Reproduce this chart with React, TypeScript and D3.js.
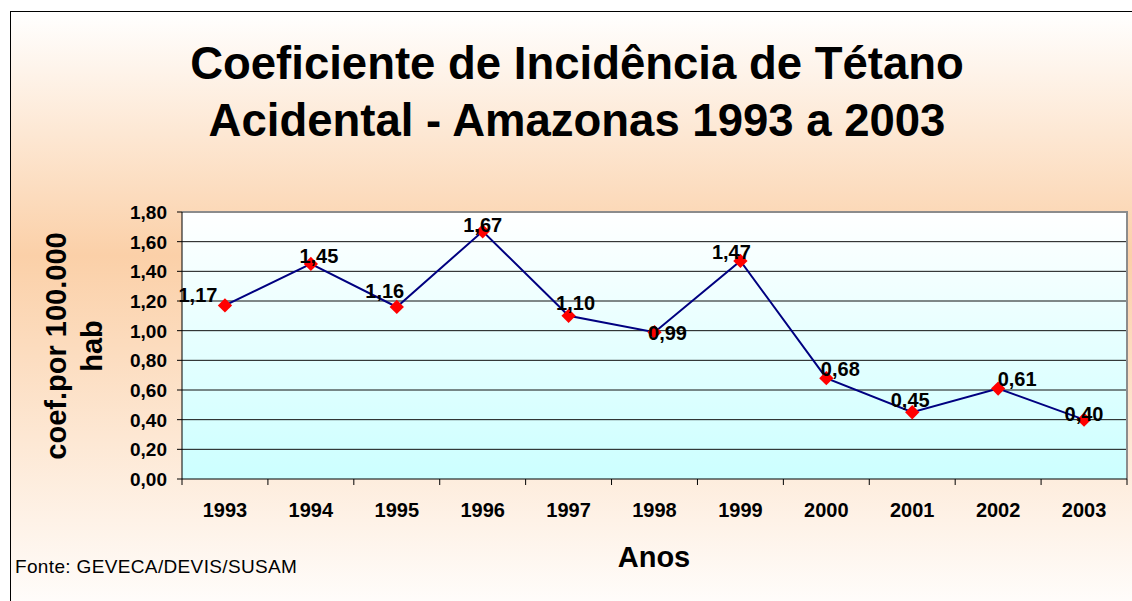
import React from "react";
import * as d3 from "d3";

const years = ["1993", "1994", "1995", "1996", "1997", "1998", "1999", "2000", "2001", "2002", "2003"];
const values = [1.17, 1.45, 1.16, 1.67, 1.10, 0.99, 1.47, 0.68, 0.45, 0.61, 0.40];
const yTicks = [0, 0.2, 0.4, 0.6, 0.8, 1.0, 1.2, 1.4, 1.6, 1.8];
const titleLines = ["Coeficiente de Incidência de Tétano", "Acidental - Amazonas 1993 a 2003"];
const yLabelLines = ["coef.por 100.000", "hab"];
const xLabel = "Anos";
const source = "Fonte: GEVECA/DEVIS/SUSAM";

// label nudges (dx, dy) relative to the point, mimicking the original placement
const labelNudge: [number, number][] = [
  [-27, -3], [8, -1], [-12, -9], [0, 1], [7, -6], [13, 8], [-9, -2], [14, -2], [-2, -5], [19, -3], [0, 1],
];

const W = 1132;
const H = 601;
const FONT = "'Liberation Sans', Arial, Helvetica, sans-serif";
const fmt = (v: number) => v.toFixed(2).replace(".", ",");

export default function App() {
  const plot = { left: 182, right: 1127, top: 212, bottom: 479 };
  const x = d3.scaleBand<string>().domain(years).range([plot.left, plot.right]);
  const y = d3.scaleLinear().domain([0, 1.8]).range([plot.bottom, plot.top]);
  const cx = (i: number) => (x(years[i]) as number) + x.bandwidth() / 2;

  const line = d3
    .line<number>()
    .x((_, i) => cx(i))
    .y((d) => y(d));

  const diamond = d3.symbol().type(d3.symbolDiamond2).size(130)();

  const boundaries = years.map((yr) => x(yr) as number).concat([plot.right]);

  return (
    <svg
      width={W}
      height={H}
      style={{ position: "absolute", left: 0, top: 0, display: "block" }}
      fontFamily={FONT}
    >
      <defs>
        <linearGradient id="bgGrad" x1="0" y1="0" x2="0" y2="1">
          <stop offset="0" stopColor="#FFFFFF" />
          <stop offset="0.4" stopColor="#FBD0A8" />
          <stop offset="1" stopColor="#FFFFFF" />
        </linearGradient>
        <linearGradient id="plotGrad" x1="0" y1="0" x2="0" y2="1">
          <stop offset="0" stopColor="#FFFFFF" />
          <stop offset="1" stopColor="#CCFFFF" />
        </linearGradient>
      </defs>
      <rect x={0} y={0} width={W} height={H} fill="#FFFFFF" />
      <rect x={10.5} y={11.5} width={1140} height={610} fill="url(#bgGrad)" stroke="#000" strokeWidth={1} />

      {/* title */}
      {titleLines.map((t, i) => (
        <text
          key={t}
          x={577}
          y={79 + i * 57}
          textAnchor="middle"
          fontSize={45.5}
          fontWeight="bold"
          fill="#000"
        >
          {t}
        </text>
      ))}

      {/* plot area */}
      <rect
        x={plot.left}
        y={plot.top}
        width={plot.right - plot.left}
        height={plot.bottom - plot.top}
        fill="url(#plotGrad)"
      />
      {yTicks.slice(1, -1).map((t) => (
        <line key={t} x1={plot.left} x2={plot.right} y1={y(t)} y2={y(t)} stroke="#111" strokeWidth={1} />
      ))}
      {/* gray frame top/right */}
      <polyline
        points={`${plot.left},${plot.top} ${plot.right},${plot.top} ${plot.right},${plot.bottom}`}
        fill="none"
        stroke="#8C8C8C"
        strokeWidth={2}
      />
      {/* axes */}
      <line x1={plot.left} x2={plot.left} y1={plot.top} y2={plot.bottom} stroke="#000" strokeWidth={1} />
      <line x1={plot.left} x2={plot.right} y1={plot.bottom} y2={plot.bottom} stroke="#000" strokeWidth={1} />
      {yTicks.map((t) => (
        <g key={t}>
          <line x1={plot.left - 5} x2={plot.left} y1={y(t)} y2={y(t)} stroke="#000" strokeWidth={1} />
          <text
            x={167}
            y={y(t)}
            dy="0.36em"
            textAnchor="end"
            fontSize={19}
            fontWeight="bold"
            fill="#000"
          >
            {fmt(t)}
          </text>
        </g>
      ))}
      {boundaries.map((bx, i) => (
        <line key={i} x1={bx} x2={bx} y1={plot.bottom} y2={plot.bottom + 6} stroke="#000" strokeWidth={1} />
      ))}
      {years.map((yr, i) => (
        <text key={yr} x={cx(i)} y={517} textAnchor="middle" fontSize={20} fontWeight="bold" fill="#000">
          {yr}
        </text>
      ))}

      {/* series */}
      <path d={line(values) || ""} fill="none" stroke="#000080" strokeWidth={2} />
      {values.map((v, i) => (
        <path key={i} d={diamond || ""} transform={`translate(${cx(i)},${y(v)})`} fill="#FF0000" />
      ))}
      {values.map((v, i) => (
        <text
          key={"l" + i}
          x={cx(i) + labelNudge[i][0]}
          y={y(v) + labelNudge[i][1]}
          textAnchor="middle"
          fontSize={20}
          fontWeight="bold"
          fill="#000"
        >
          {fmt(v)}
        </text>
      ))}

      {/* axis titles */}
      <text
        transform={`translate(66,346) rotate(-90)`}
        textAnchor="middle"
        fontSize={29}
        fontWeight="bold"
        fill="#000"
      >
        {yLabelLines[0]}
      </text>
      <text
        transform={`translate(102,346) rotate(-90)`}
        textAnchor="middle"
        fontSize={29}
        fontWeight="bold"
        fill="#000"
      >
        {yLabelLines[1]}
      </text>
      <text x={654} y={567} textAnchor="middle" fontSize={29} fontWeight="bold" fill="#000">
        {xLabel}
      </text>
      <text x={15} y={573} fontSize={19} letterSpacing={0.35} fill="#000">
        {source}
      </text>
    </svg>
  );
}
